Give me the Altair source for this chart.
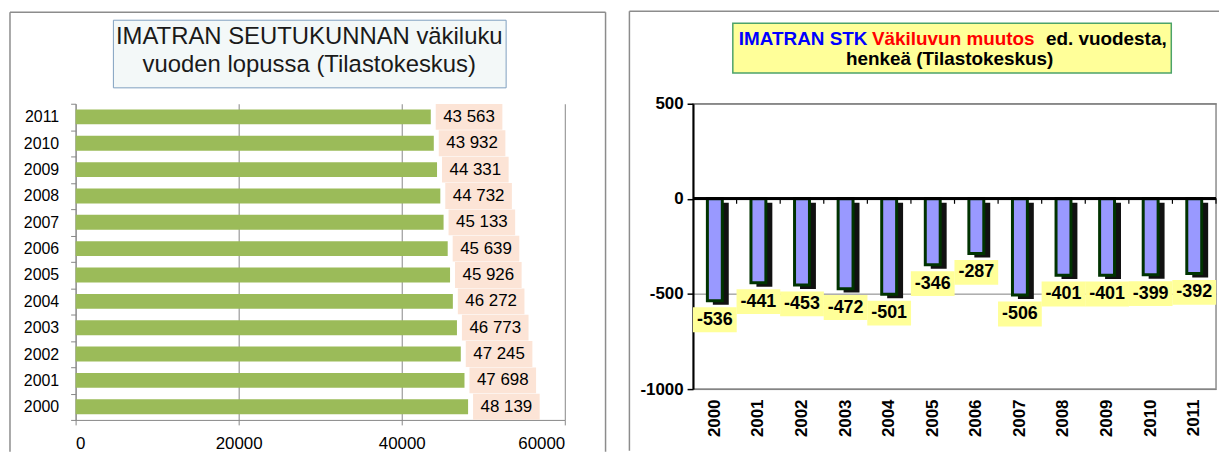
import altair as alt
import pandas as pd

# ---------------- data ----------------
years = [2000, 2001, 2002, 2003, 2004, 2005, 2006, 2007, 2008, 2009, 2010, 2011]
population = [48139, 47698, 47245, 46773, 46272, 45926, 45639, 45133, 44732, 44331, 43932, 43563]
change = [-536, -441, -453, -472, -501, -346, -287, -506, -401, -401, -399, -392]
pop_ticks = [0, 20000, 40000, 60000]
chg_ticks = [500, 0, -500, -1000]
left_title = ["IMATRAN SEUTUKUNNAN väkiluku", "vuoden lopussa  (Tilastokeskus)"]
right_title_parts = ["IMATRAN STK", "Väkiluvun muutos", "ed. vuodesta,"]
right_title_colors = ["#0000FF", "#FF0000", "#000000"]
right_title_line2 = "henkeä (Tilastokeskus)"

year_str = [str(y) for y in years]
pop_df = pd.DataFrame({
    "year": year_str,
    "pop": population,
    "label": [f"{p:,}".replace(",", " ") for p in population],
})
chg_df = pd.DataFrame({
    "year": year_str,
    "chg": change,
    "label": [str(c) for c in change],
})

AF = "Liberation Sans, Arial, sans-serif"
LF = "Liberation Sans, Arial, sans-serif"
one = alt.Data(values=[{"k": 0}])

# ---------------- left panel ----------------
LW, LH = 492, 318
l_order = list(reversed(year_str))
l_ysc = alt.Scale(domain=l_order, paddingInner=0, paddingOuter=0)
l_xsc = alt.Scale(domain=[0, 60000], nice=False)
l_xenc = alt.X("pop:Q", scale=l_xsc, axis=alt.Axis(
    values=pop_ticks, format="d", title=None, grid=True, gridColor="#868686",
    gridWidth=1, domainColor="#868686", tickColor="#868686", tickSize=5,
    labelFontSize=17, labelFont=LF, labelColor="#000000", labelPadding=11))
l_yenc = alt.Y("year:N", scale=l_ysc, sort=l_order, axis=alt.Axis(
    title=None, tickBand="extent", domainColor="#868686", tickColor="#868686",
    tickSize=5, labelFontSize=16, labelFont=LF, labelColor="#000000",
    labelPadding=12, grid=False))

base_l = alt.Chart(pop_df)
bars_l = base_l.mark_bar(size=15, color="#9BBB59").encode(x=l_xenc, y=l_yenc)
BOX_L = "M-1,-0.388L1,-0.388L1,0.388L-1,0.388Z"
lab_bg_l = base_l.mark_point(shape=BOX_L, size=4489, filled=True, fill="#FCE4D6",
                             opacity=1, strokeWidth=0, xOffset=38.5).encode(
    x=alt.X("pop:Q", scale=l_xsc), y=alt.Y("year:N", scale=l_ysc))
lab_l = base_l.mark_text(dx=38.5, fontSize=17, font=LF, color="#000000").encode(
    x=alt.X("pop:Q", scale=l_xsc), y=alt.Y("year:N", scale=l_ysc), text="label:N")

FR = "#8C8C8C"
lf_top = alt.Chart(one).mark_rule(color=FR, strokeWidth=1.5).encode(
    x=alt.value(-66), x2=alt.value(533), y=alt.value(-92))
lf_left = alt.Chart(one).mark_rule(color=FR, strokeWidth=1.5).encode(
    x=alt.value(-66), y=alt.value(-92), y2=alt.value(350))
lf_right = alt.Chart(one).mark_rule(color=FR, strokeWidth=1.5).encode(
    x=alt.value(533), y=alt.value(-92), y2=alt.value(350))
lt_box = alt.Chart(one).mark_rect(fill="#F3F8F8", stroke="#7F9FBF", strokeWidth=1).encode(
    x=alt.value(38), x2=alt.value(433), y=alt.value(-84), y2=alt.value(-16))
lt_1 = alt.Chart(one).mark_text(fontSize=24, font=LF, color="#1A1A1A").encode(
    x=alt.value(235), y=alt.value(-67), text=alt.value(left_title[0]))
lt_2 = alt.Chart(one).mark_text(fontSize=24, font=LF, color="#1A1A1A").encode(
    x=alt.value(235), y=alt.value(-39), text=alt.value(left_title[1]))

left = alt.layer(lf_top, lf_left, lf_right, lt_box, lt_1, lt_2,
                 bars_l, lab_bg_l, lab_l).properties(
    width=LW, height=LH, view=alt.ViewBackground(stroke="transparent"))

# ---------------- right panel ----------------
RW, RH = 526, 287
r_xsc = alt.Scale(domain=year_str, paddingInner=0, paddingOuter=0)
r_ysc = alt.Scale(domain=[-1000, 500], nice=False)
r_xenc = alt.X("year:N", scale=r_xsc, axis=alt.Axis(
    title=None, labelAngle=270, labelFontSize=17, labelFontWeight="bold",
    labelFont=AF, labelColor="#000000", ticks=False, domain=False, labelPadding=10))
r_yenc = alt.Y("chg:Q", scale=r_ysc, axis=alt.Axis(
    values=chg_ticks, labelExpr="'' + datum.value", title=None, grid=True,
    gridColor="#808080", gridWidth=1, domainColor="#000000", domainWidth=2,
    tickColor="#000000", tickSize=6, tickWidth=1.5, labelFontSize=17,
    labelFontWeight="bold", labelFont=AF, labelColor="#000000", labelPadding=4))

base_r = alt.Chart(chg_df)
shadow = base_r.mark_bar(size=16, color="#111111", xOffset=6, yOffset=4).encode(
    x=r_xenc, y=r_yenc)
bars_r = base_r.mark_bar(size=15, fill="#9999FF", stroke="#003300", strokeWidth=3).encode(
    x=alt.X("year:N", scale=r_xsc), y=alt.Y("chg:Q", scale=r_ysc))
zero = base_r.mark_rule(color="#000000", strokeWidth=2).encode(y=alt.datum(0))
zticks = base_r.mark_rule(color="#000000", strokeWidth=1.2, xOffset=21.9).encode(
    x=alt.X("year:N", scale=r_xsc), y=alt.datum(0), y2=alt.datum(-26))
BOX_R = "M-1,-0.568L1,-0.568L1,0.568L-1,0.568Z"
lab_bg_r = base_r.mark_point(shape=BOX_R, size=1936, filled=True, fill="#FFFF99",
                             opacity=1, strokeWidth=0, yOffset=19).encode(
    x=alt.X("year:N", scale=r_xsc), y=alt.Y("chg:Q", scale=r_ysc))
lab_r = base_r.mark_text(dy=19, fontSize=18, fontWeight="bold", font=AF,
                         color="#000000").encode(
    x=alt.X("year:N", scale=r_xsc), y=alt.Y("chg:Q", scale=r_ysc), text="label:N")

rf_top = alt.Chart(one).mark_rule(color=FR, strokeWidth=1.5).encode(
    x=alt.value(-64), x2=alt.value(529), y=alt.value(-93))
rf_left = alt.Chart(one).mark_rule(color=FR, strokeWidth=1.5).encode(
    x=alt.value(-64), y=alt.value(-93), y2=alt.value(349))
rt_box = alt.Chart(one).mark_rect(fill="#FFFF99", stroke="#4CA36A", strokeWidth=1.5).encode(
    x=alt.value(40), x2=alt.value(481), y=alt.value(-81), y2=alt.value(-31))
rt_parts = []
for txt, col, xx in zip(right_title_parts, right_title_colors, [46, 180, 355]):
    rt_parts.append(alt.Chart(one).mark_text(
        fontSize=19, fontWeight="bold", font=AF, color=col, align="left").encode(
        x=alt.value(xx), y=alt.value(-65), text=alt.value(txt)))
rt_2 = alt.Chart(one).mark_text(fontSize=19, fontWeight="bold", font=AF,
                                color="#000000").encode(
    x=alt.value(258), y=alt.value(-45), text=alt.value(right_title_line2))

right = alt.layer(rf_top, rf_left, rt_box, *rt_parts, rt_2,
                  shadow, bars_r, zero, zticks, lab_bg_r, lab_r).properties(
    width=RW, height=RH, view=alt.ViewBackground(stroke="#8C8C8C", strokeWidth=1.5))

chart = alt.hconcat(left, right, spacing=20).properties(
    padding={"left": 0, "top": 0, "right": 0, "bottom": 0}
).configure(background="#FFFFFF")

chart.save("out.html", embed_options={"renderer": "svg", "actions": False})
